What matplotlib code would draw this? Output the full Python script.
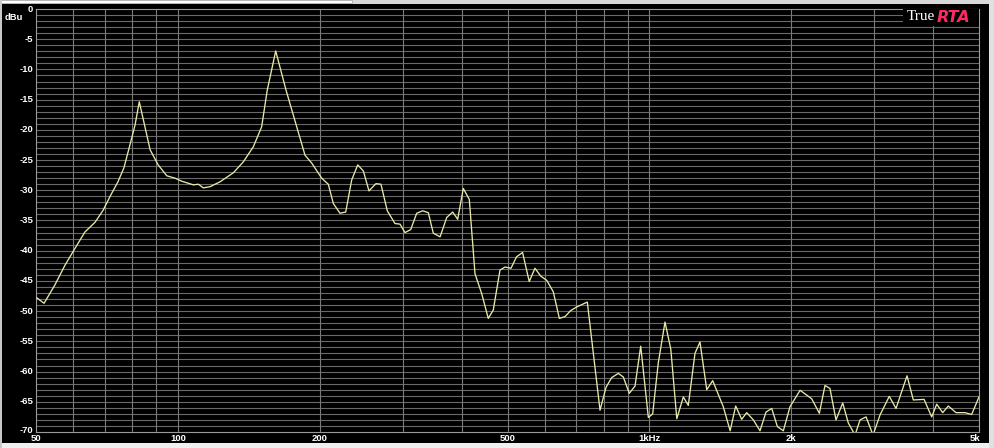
import matplotlib
matplotlib.use("Agg")
import matplotlib.pyplot as plt
from matplotlib.patches import Rectangle

freq_hz = [50.2, 52.0, 54.8, 57.6, 60.5, 63.5, 66.7, 69.4, 71.8, 74.6, 76.8, 79.1, 81.1, 82.8,
           87.3, 90.8, 94.7, 98.6, 101.9, 107.8, 110.5, 113.2, 117.0, 122.8, 131.1, 137.6,
           144.5, 150.5, 154.7, 161.2, 169.5, 178.6, 186.0, 192.2, 201.8, 208.4, 213.6,
           220.7, 226.9, 233.6, 240.6, 247.3, 254.2, 263.0, 269.5, 278.0, 288.6, 295.8,
           303.1, 311.7, 320.9, 330.5, 339.6, 348.0, 359.7, 371.6, 382.6, 392.0, 402.9,
           414.9, 426.6, 440.8, 455.2, 466.5, 482.0, 493.9, 508.6, 522.6, 538.2, 556.0,
           571.8, 588.0, 605.6, 625.3, 644.1, 662.2, 681.0, 701.3, 738.3, 785.6, 809.1,
           831.6, 859.0, 880.2, 906.3, 932.0, 958.3, 994.7, 1016, 1044, 1079, 1110, 1143,
           1180, 1209, 1249, 1280, 1323, 1362, 1434, 1483, 1524, 1569, 1608, 1661, 1716,
           1767, 1817, 1868, 1923, 1987, 2087, 2156, 2209, 2293, 2357, 2415, 2487, 2570,
           2641, 2729, 2797, 2880, 2980, 3083, 3226, 3334, 3518, 3628, 3823, 3969, 4067,
           4188, 4304, 4469, 4670, 4824, 5000]
level_dbu = [-47.8, -48.7, -45.7, -42.4, -39.6, -36.9, -35.3, -33.3, -31.0, -28.6, -26.3, -22.5,
             -19.2, -15.35, -23.3, -25.8, -27.6, -28.0, -28.5, -29.1, -29.0, -29.6, -29.4,
             -28.6, -27.1, -25.3, -22.8, -19.5, -13.4, -6.95, -13.4, -19.5, -24.2, -25.5,
             -28.0, -29.0, -32.2, -33.8, -33.6, -28.3, -25.8, -26.8, -30.1, -28.9, -29.0,
             -33.4, -35.5, -35.6, -37.0, -36.5, -33.8, -33.4, -33.7, -37.1, -37.7, -34.5,
             -33.6, -34.8, -29.7, -31.5, -43.8, -47.1, -51.2, -49.8, -43.2, -42.7, -42.9,
             -41.0, -40.3, -45.1, -42.9, -44.2, -44.9, -46.8, -51.2, -50.9, -49.9, -49.3,
             -48.5, -66.4, -62.6, -61.0, -60.3, -60.9, -63.6, -62.4, -55.8, -67.6, -67.0,
             -58.6, -51.8, -56.3, -67.8, -64.2, -65.6, -57.0, -55.1, -63.0, -61.5, -65.8,
             -69.8, -65.7, -67.9, -66.8, -68.0, -69.8, -66.7, -66.1, -69.1, -69.8, -65.8,
             -63.1, -63.9, -64.5, -66.9, -62.3, -62.8, -68.0, -65.2, -68.5, -70.5, -68.0,
             -67.5, -70.5, -67.2, -64.1, -66.1, -60.7, -64.7, -64.6, -67.5, -65.4, -66.8,
             -65.7, -66.8, -66.8, -67.1, -64.2]

x_grid = [60, 70, 80, 90, 100, 200, 300, 400, 500, 600, 700, 800, 900, 1000, 2000, 3000, 4000]
x_ticks = [50, 100, 200, 500, 1000, 2000, 5000]
x_labels = ["50", "100", "200", "500", "1kHz", "2k", "5k"]
y_ticks = list(range(0, -75, -5))
y_labels = [str(v) for v in y_ticks]

W, H = 994, 448
fig = plt.figure(figsize=(W / 100, H / 100), dpi=100, facecolor="black")
L, R, T, B = 36, 979, 9, 432
ax = fig.add_axes([L / W, 1 - B / H, (R - L) / W, (B - T) / H])
ax.set_facecolor("black")
ax.set_xscale("log")
ax.set_xlim(50, 5000)
ax.set_ylim(-70, 0)

for v in range(-69, 0):
    ax.axhline(v, color="#6a6a6a", lw=0.8, zorder=1)
for v in x_grid:
    ax.axvline(v, color="#7a7a7a", lw=0.8, zorder=1)

ax.plot(freq_hz, level_dbu, color="#e8e8a8", lw=0.95, zorder=3, clip_on=True)

ax.set_xticks([])
ax.set_yticks([])
ax.minorticks_off()
for s in ax.spines.values():
    s.set_color("#9a9a9a")
    s.set_linewidth(0.8)

lab_font = dict(family=["Liberation Sans", "DejaVu Sans"], fontsize=6.8, fontweight="bold", color="white")
for v, t in zip(y_ticks, y_labels):
    fig.text((L - 3) / W, 1 - (T + (B - T) * (-v) / 70 - (1.5 if v == -70 else 0)) / H, t,
             ha="right", va="center", **lab_font)
for v, t in zip(x_ticks, x_labels):
    ha = "right" if v == 5000 else "center"
    xx = ax.transData.transform((v, 0))[0] / W
    if v == 5000:
        xx = (R + 1) / W
    fig.text(xx, 1 - 438 / H, t, ha=ha, va="center", **lab_font)
fig.text(5 / W, 1 - 17 / H, "dBu", ha="left", va="center", **lab_font)

# logo box (axes coordinates) hiding the grid behind the logo
bx0 = (903 - L) / (R - L)
by0 = 1 - (26 - T) / (B - T)
ax.add_patch(Rectangle((bx0, by0), 1 - bx0, 1 - by0, transform=ax.transAxes,
                       facecolor="black", edgecolor="none", zorder=4))
ax.text((935 - L) / (R - L), 1 - (17 - T) / (B - T), "True", ha="right", va="center",
        transform=ax.transAxes, family=["Liberation Serif", "DejaVu Serif"],
        fontsize=11, color="white", zorder=5)
ax.text((937 - L) / (R - L), 1 - (17 - T) / (B - T), "RTA", ha="left", va="center",
        transform=ax.transAxes, family=["DejaVu Sans"],
        fontsize=11.5, fontweight="bold", fontstyle="italic", color="#ff2a64", zorder=5)

# window chrome strips
fig.patches.append(Rectangle((0, 1 - 4 / H), 1, 4 / H, transform=fig.transFigure, facecolor="#d8d8d8", edgecolor="none", zorder=0))
fig.patches.append(Rectangle((0, 1 - 3 / H), 352 / W, 3 / H, transform=fig.transFigure, facecolor="white", edgecolor="#a0a0a0", lw=0.5, zorder=0))
fig.patches.append(Rectangle((0, 0), 1, 5 / H, transform=fig.transFigure, facecolor="#f0f0f0", edgecolor="none", zorder=0))
fig.patches.append(Rectangle((989 / W, 0), 5 / W, 1, transform=fig.transFigure, facecolor="#e0e0e0", edgecolor="none", zorder=0))
fig.patches.append(Rectangle((0, 0), 2 / W, 1, transform=fig.transFigure, facecolor="#c8c8c8", edgecolor="none", zorder=0))

fig.savefig("out.png", dpi=100, facecolor="black")
